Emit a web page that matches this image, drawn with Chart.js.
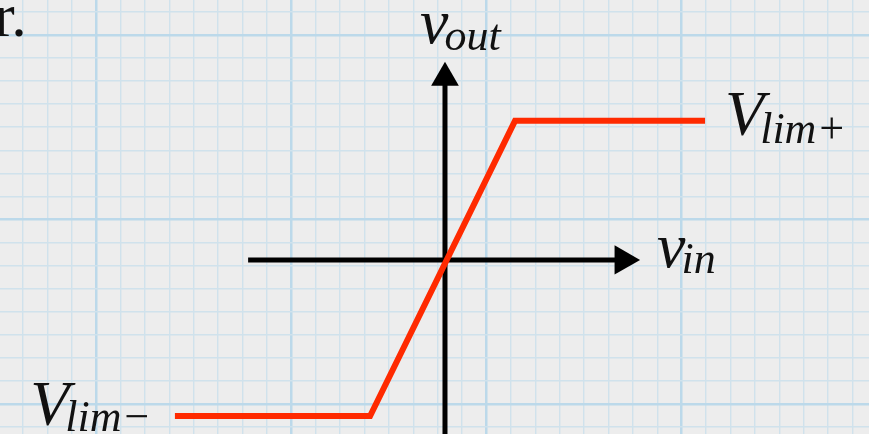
<!DOCTYPE html>
<html>
<head>
<meta charset="utf-8">
<script src="https://cdn.jsdelivr.net/npm/chart.js@4/dist/chart.umd.min.js"></script>
<style>
  html, body { margin: 0; padding: 0; background: #ededed; }
  canvas { display: block; }
</style>
</head>
<body>
<canvas id="transfer-chart" width="869" height="434"></canvas>
<script>
// transfer characteristic of a limiter (v_in -> v_out), in grid cells
var vin  = [-11.07, -3.07, 2.87, 10.66]
var vout = [-6.77, -6.77, 6.03, 6.03]

// axis extents
var xAxisFrom = -8.07, xAxisTo = 7.3
var yAxisFrom = -8,    yAxisTo = 7.9

// labels
var labelMain = ['v', 'V', 'v', 'V']
var labelSub  = ['out', 'lim+', 'in', 'lim\u2212']
var labelX    = [-1.02, 11.48, 8.69, -17.0]
var labelY    = [9.41, 5.42, -0.30, -7.16]
var labelSubDy = [7, 8, 6, 6]

var ctx = document.getElementById('transfer-chart').getContext('2d')

var points = vin.map(function (x, i) { return { x: x, y: vout[i] } })

function gridTicks(start, step, majorEvery) {
    return function (scale) {
        var ticks = []
        var k0 = Math.floor((scale.min - start) / step)
        var k1 = Math.ceil((scale.max - start) / step)
        for (var k = k0; k <= k1; k++) {
            var v = start + k * step
            if (v < scale.min || v > scale.max) continue
            ticks.push({ value: v, isMajor: ((k % majorEvery) + majorEvery) % majorEvery === 0 })
        }
        scale.ticks = ticks
    }
}

var gridStyle = {
    drawTicks: false,
    color: function (c) { return c.tick && c.tick.isMajor ? '#bcd9ea' : '#d0e2ec' },
    lineWidth: function (c) { return c.tick && c.tick.isMajor ? 2.5 : 1.4 }
}

var textPlugin = {
    id: 'texts',
    afterDatasetsDraw: function (chart) {
        var c = chart.ctx
        var xs = chart.scales.x, ys = chart.scales.y
        c.save()
        c.fillStyle = '#111'
        c.textBaseline = 'alphabetic'
        c.font = '62px "Liberation Serif"'
        c.fillText('r.', -6, 36)
        for (var i = 0; i < labelMain.length; i++) {
            var px = xs.getPixelForValue(labelX[i])
            var py = ys.getPixelForValue(labelY[i])
            c.font = 'italic 64px "Liberation Serif"'
            c.fillText(labelMain[i], px, py)
            var w = c.measureText(labelMain[i]).width
            c.font = 'italic 44px "Liberation Serif"'
            c.fillText(labelSub[i], px + w - 4, py + labelSubDy[i])
        }
        c.restore()
    }
}

new Chart(ctx, {
    type: 'scatter',
    data: {
        datasets: [{
            data: points,
            showLine: true,
            borderColor: '#ff2a00',
            borderWidth: 6,
            borderJoinStyle: 'miter',
            pointRadius: 0
        }, {
            data: [{ x: xAxisFrom, y: 0 }, { x: xAxisTo, y: 0 }],
            showLine: true,
            borderColor: '#000',
            borderWidth: 5,
            pointStyle: 'triangle',
            pointRadius: [0, 17],
            pointRotation: [0, 90],
            pointBackgroundColor: '#000',
            pointBorderWidth: 0
        }, {
            data: [{ x: 0, y: yAxisFrom }, { x: 0, y: yAxisTo }],
            showLine: true,
            borderColor: '#000',
            borderWidth: 5,
            pointStyle: 'triangle',
            pointRadius: [0, 16],
            pointRotation: [0, 0],
            pointBackgroundColor: '#000',
            pointBorderWidth: 0
        }]
    },
    options: {
        responsive: false,
        animation: false,
        layout: { padding: 0, autoPadding: false },
        plugins: { legend: { display: false }, tooltip: { enabled: false } },
        scales: {
            x: {
                type: 'linear', min: -18.24, max: 17.38,
                ticks: { display: false },
                border: { display: false },
                grid: gridStyle,
                afterBuildTicks: gridTicks(-14.3, 1, 8)
            },
            y: {
                type: 'linear', min: -7.55, max: 11.27,
                ticks: { display: false },
                border: { display: false },
                grid: gridStyle,
                afterBuildTicks: gridTicks(1.756, 1, 8)
            }
        }
    },
    plugins: [textPlugin]
})
</script>
</body>
</html>
